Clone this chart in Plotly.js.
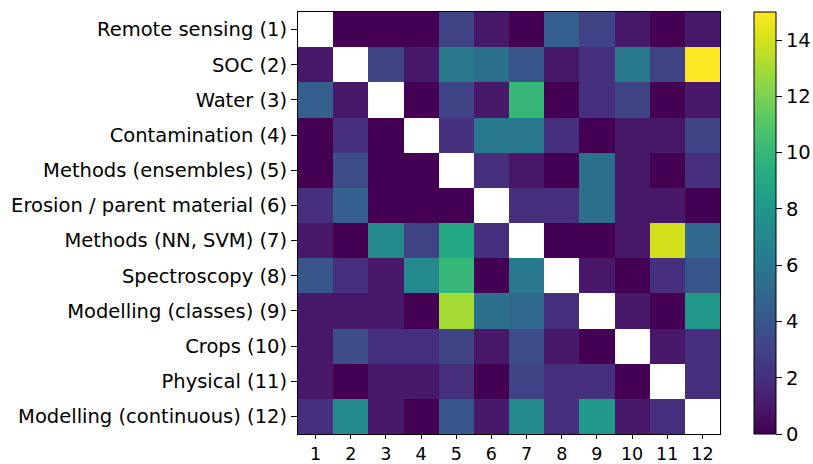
<!DOCTYPE html>
<html>
<head>
<meta charset="utf-8">
<script src="https://cdn.plot.ly/plotly-3.0.1.min.js"></script>
<style>html,body{margin:0;padding:0;background:#fff;}#chart{width:813px;height:464px;}</style>
</head>
<body>
<div id="chart"></div>
<script>
const rowLabels = ["Remote sensing (1)", "SOC (2)", "Water (3)", "Contamination (4)",
  "Methods (ensembles) (5)", "Erosion / parent material (6)", "Methods (NN, SVM) (7)",
  "Spectroscopy (8)", "Modelling (classes) (9)", "Crops (10)", "Physical (11)",
  "Modelling (continuous) (12)"];
const colLabels = ["1","2","3","4","5","6","7","8","9","10","11","12"];
const N = null;
const row1  = [N, 0, 0, 0, 3, 1, 0, 4.5, 3, 1, 0, 1];
const row2  = [1, N, 3, 1, 6, 5.5, 4, 1, 2, 6, 3, 15];
const row3  = [4.5, 1, N, 0, 3, 1, 10, 0, 2, 3, 0, 1];
const row4  = [0, 2, 0, N, 2, 6, 6, 2, 0, 1, 1, 3];
const row5  = [0, 3.5, 0, 0, N, 2, 1, 0, 5.5, 1, 0, 2];
const row6  = [2, 4.5, 0, 0, 0, N, 2, 2, 5.5, 1, 1, 0];
const row7  = [1, 0, 7, 3, 9, 2, N, 0, 0, 1, 14, 5];
const row8  = [4, 2, 1, 7, 10, 0, 6, N, 1, 0, 2, 4];
const row9  = [1, 1, 1, 0, 13, 5.5, 5, 2, N, 1, 0, 8];
const row10 = [1, 3.5, 2, 2, 3, 1, 3.5, 1, 0, N, 1, 2];
const row11 = [1, 0, 1, 1, 2, 0, 3, 2, 2, 0, N, 2];
const row12 = [2, 7, 1, 0, 4, 1, 7, 2, 8, 1, 2, N];
const zValues = [row1,row2,row3,row4,row5,row6,row7,row8,row9,row10,row11,row12];
const cbTicks = [0, 2, 4, 6, 8, 10, 12, 14];

const font = {family: "DejaVu Sans, sans-serif", size: 19.5, color: "#000"};
const xfont = {family: "DejaVu Sans, sans-serif", size: 17.5, color: "#000"};

Plotly.newPlot("chart", [{
  type: "heatmap",
  x: colLabels,
  y: rowLabels,
  z: zValues,
  zmin: 0, zmax: 15,
  colorscale: "Viridis",
  hoverongaps: false,
  colorbar: {
    x: 1.0806, xanchor: "left", xref: "paper",
    y: 0.5, yanchor: "middle", len: 1, lenmode: "fraction",
    thickness: 22, thicknessmode: "pixels",
    outlinewidth: 1, outlinecolor: "#000",
    tickvals: cbTicks, ticks: "outside", ticklen: 6, tickwidth: 1, tickcolor: "#000",
    tickfont: font, xpad: 0, ypad: 0
  }
}], {
  width: 813, height: 464,
  margin: {l: 298, r: 93, t: 12, b: 30, autoexpand: false},
  paper_bgcolor: "#fff", plot_bgcolor: "#fff",
  font: font,
  xaxis: {
    type: "category", showgrid: false, zeroline: false, automargin: false,
    showline: true, mirror: true, linecolor: "#000", linewidth: 1,
    ticks: "outside", ticklen: 4, tickwidth: 1, tickcolor: "#000",
    tickfont: xfont
  },
  yaxis: {
    type: "category", autorange: "reversed", showgrid: false, zeroline: false, automargin: false,
    showline: true, mirror: true, linecolor: "#000", linewidth: 1,
    ticks: "outside", ticklen: 6, tickwidth: 1, tickcolor: "#000",
    tickfont: font
  }
}, {staticPlot: true});
</script>
</body>
</html>
